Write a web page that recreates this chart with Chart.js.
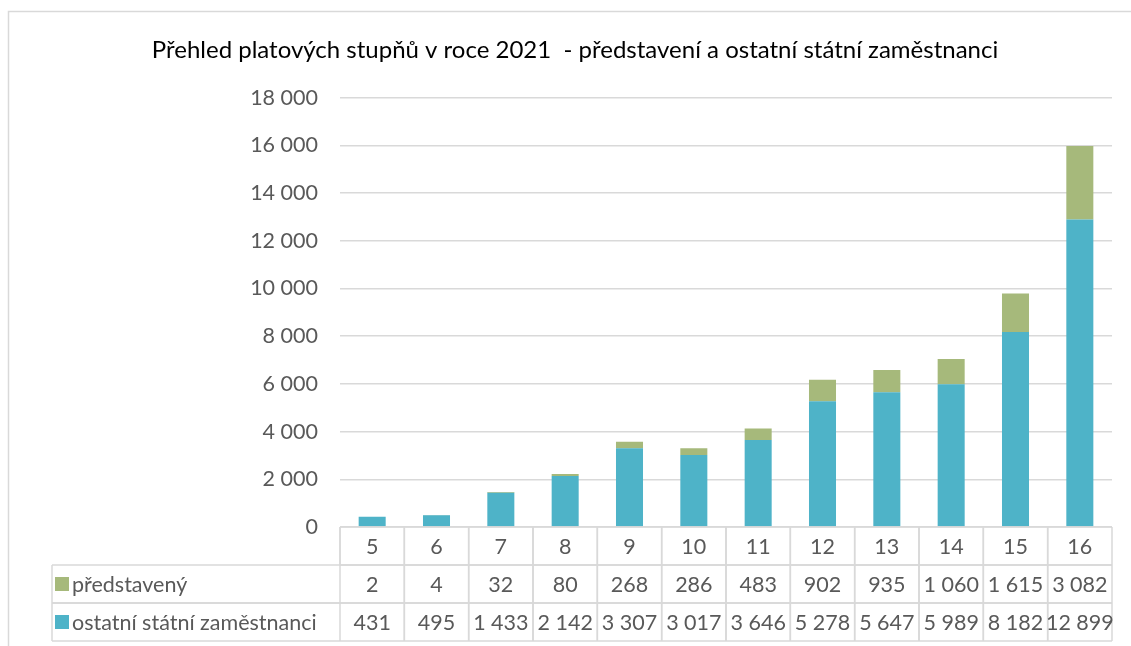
<!DOCTYPE html>
<html>
<head>
<meta charset="utf-8">
<script src="https://cdn.jsdelivr.net/npm/chart.js@4.4.1/dist/chart.umd.min.js"></script>
<style>
  html, body { margin: 0; padding: 0; background: #fff; }
  #wrap { width: 1131px; height: 646px; position: relative; }
</style>
</head>
<body>
<div id="wrap"><canvas id="platChart"></canvas></div>
<script>
// data
var stupne = ["5", "6", "7", "8", "9", "10", "11", "12", "13", "14", "15", "16"];
var predstaveny = [2, 4, 32, 80, 268, 286, 483, 902, 935, 1060, 1615, 3082];
var ostatni = [431, 495, 1433, 2142, 3307, 3017, 3646, 5278, 5647, 5989, 8182, 12899];
var yTicks = [0, 2000, 4000, 6000, 8000, 10000, 12000, 14000, 16000, 18000];

var barvaOstatni = "#4EB3C8";
var barvaPredst = "#A6B97B";
var textColor = "#595959";
var lineColor = "#D9D9D9";
var fontName = "Lato, 'Open Sans', sans-serif";

function cislo(v) {
  return String(v).replace(/\B(?=(\d{3})+(?!\d))/g, " ");
}

// table under the chart (like excel data table)
var tablePlugin = {
  id: "tabulka",
  afterDraw: function(chart) {
    let ctx = chart.ctx;
    let x = chart.scales.x;
    let top = chart.chartArea.bottom;
    let rowH = 38;
    let leftCol = 52;
    let n = stupne.length;
    let cw = (x.right - x.left) / n;
    let rows = [
      { label: null, vals: stupne },
      { label: "představený", color: barvaPredst, vals: predstaveny.map(cislo) },
      { label: "ostatní státní zaměstnanci", color: barvaOstatni, vals: ostatni.map(cislo) }
    ];

    ctx.save();
    // outer frame
    ctx.strokeStyle = lineColor;
    ctx.lineWidth = 1.5;
    ctx.strokeRect(8.5, 11.5, 1300, 800);

    ctx.font = "21.5px " + fontName;
    ctx.fillStyle = textColor;
    ctx.textBaseline = "middle";

    rows.forEach(function(r, ri) {
      let y0 = top + ri * rowH;
      let y1 = y0 + rowH;
      let l = r.label ? leftCol : x.left;
      // horizontal lines
      ctx.beginPath();
      ctx.moveTo(l, y0); ctx.lineTo(x.right, y0);
      ctx.moveTo(l, y1); ctx.lineTo(x.right, y1);
      ctx.stroke();
      // left edge
      ctx.beginPath();
      ctx.moveTo(l, y0); ctx.lineTo(l, y1);
      ctx.stroke();
      if (r.label) {
        ctx.fillStyle = r.color;
        ctx.fillRect(leftCol + 3, y0 + rowH / 2 - 7, 14, 14);
        ctx.fillStyle = textColor;
        ctx.textAlign = "left";
        ctx.fillText(r.label, leftCol + 20, y0 + rowH / 2 + 1);
      }
      for (let i = 0; i < n; i++) {
        let cx = x.getPixelForValue(i);
        ctx.beginPath();
        ctx.moveTo(cx + cw / 2, y0); ctx.lineTo(cx + cw / 2, y1);
        ctx.moveTo(cx - cw / 2, y0); ctx.lineTo(cx - cw / 2, y1);
        ctx.stroke();
        ctx.textAlign = "center";
        ctx.fillText(r.vals[i], cx, y0 + rowH / 2 + 1);
      }
    });
    ctx.restore();
  }
};

var ctx = document.getElementById("platChart");
new Chart(ctx, {
  type: "bar",
  data: {
    labels: stupne,
    datasets: [
      { label: "ostatní státní zaměstnanci", data: ostatni, backgroundColor: barvaOstatni, stack: "s" },
      { label: "představený", data: predstaveny, backgroundColor: barvaPredst, stack: "s" }
    ]
  },
  options: {
    responsive: true,
    maintainAspectRatio: false,
    animation: false,
    layout: { padding: { left: 38, right: 19, top: 0, bottom: 119 } },
    plugins: {
      legend: { display: false },
      tooltip: { enabled: false },
      title: {
        display: true,
        text: "Přehled platových stupňů v roce 2021  - představení a ostatní státní zaměstnanci",
        color: "#000",
        font: { family: fontName, size: 24, weight: "normal" },
        padding: { top: 36, bottom: 33 }
      }
    },
    scales: {
      x: {
        stacked: true,
        grid: { display: false, drawTicks: false },
        border: { display: false },
        ticks: { display: false }
      },
      y: {
        stacked: true,
        min: 0,
        max: 18000,
        afterFit: function(s) { s.width = 302; },
        afterBuildTicks: function(s) { s.ticks = yTicks.map(function(v) { return { value: v }; }); },
        grid: { color: lineColor, lineWidth: 1.5, drawTicks: false },
        border: { display: false },
        ticks: {
          color: textColor,
          padding: 22,
          font: { family: fontName, size: 21.5 },
          callback: function(v) { return cislo(v); }
        }
      }
    },
    datasets: { bar: { barPercentage: 0.42, categoryPercentage: 1 } }
  },
  plugins: [tablePlugin]
});
</script>
</body>
</html>
